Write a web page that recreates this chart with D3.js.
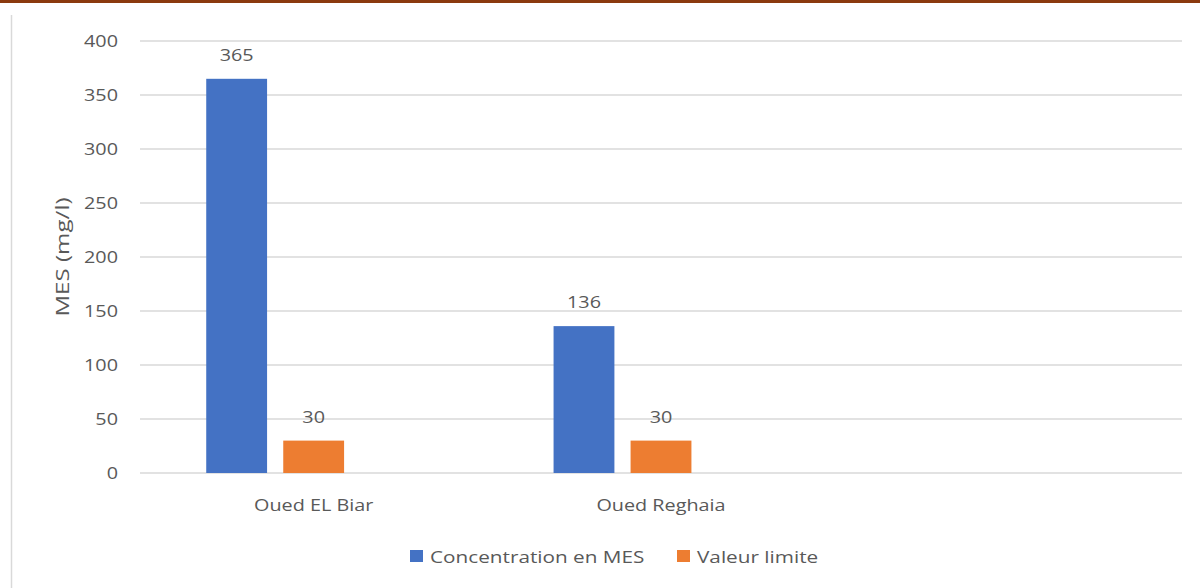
<!DOCTYPE html>
<meta charset="utf-8">
<style>

  body {
    margin: 0;
    background: #fff;
  }

  text {
    font-family: "Open Sans", sans-serif;
    fill: #595959;
  }

</style>
<body>
<svg width="1200" height="588"></svg>
<script src="https://cdn.jsdelivr.net/npm/d3@7"></script>
<script>

var categories = ["Oued EL Biar", "Oued Reghaia", ""];
var seriesNames = ["Concentration en MES", "Valeur limite", ""];
var concentration = [365, 136];
var valeurLimite = [30, 30];
var yTicks = [0, 50, 100, 150, 200, 250, 300, 350, 400];

var colorkey = ["#4472C4", "#ED7D31"];

var data = [];
for (var i = 0; i < concentration.length; i++) {
  data.push({cat: categories[i], key: seriesNames[0], value: concentration[i]});
  data.push({cat: categories[i], key: seriesNames[1], value: valeurLimite[i]});
}

var svg = d3.select("svg"),
    margin = {top: 41, right: 18, bottom: 115, left: 140},
    width = +svg.attr("width"),
    height = +svg.attr("height");

// the source picture has its text a little stretched sideways
var stretch = 1.2;
function place(sel, fx, fy, sx) {
  sel.attr("transform", function(d, i) {
    return "translate(" + fx(d, i) + "," + fy(d, i) + ") scale(" + (sx || stretch) + ",1)";
  });
}

// frame bits
svg.append("rect")
    .attr("x", 0).attr("y", 0)
    .attr("width", width).attr("height", 3)
    .attr("fill", "#8B3A0E");

svg.append("line")
    .attr("x1", 11.5).attr("x2", 11.5)
    .attr("y1", 15).attr("y2", height)
    .attr("stroke", "#d9d9d9")
    .attr("stroke-width", 1.5);

var x0 = d3.scaleBand()
    .domain(categories)
    .range([margin.left, width - margin.right]);

var x1 = d3.scaleBand()
    .domain(seriesNames)
    .range([0, x0.bandwidth()])
    .paddingInner(0.21)
    .paddingOuter(0.86);

var y = d3.scaleLinear()
    .domain([0, 400])
    .range([height - margin.bottom, margin.top]);

var z = d3.scaleOrdinal()
    .domain(seriesNames.slice(0, 2))
    .range(colorkey);

// gridlines
svg.append("g")
  .selectAll("line")
  .data(yTicks)
  .enter().append("line")
    .attr("x1", margin.left)
    .attr("x2", width - margin.right)
    .attr("y1", function(d) { return y(d); })
    .attr("y2", function(d) { return y(d); })
    .attr("stroke", "#d9d9d9")
    .attr("stroke-width", 1.3);

// y tick labels
svg.append("g")
  .selectAll("text")
  .data(yTicks)
  .enter().append("text")
    .attr("dy", "0.35em")
    .attr("text-anchor", "end")
    .style("font-size", "16.5px")
    .text(function(d) { return d; })
    .call(place, function() { return 118; }, function(d) { return y(d); });

// bars
svg.append("g")
  .selectAll("rect")
  .data(data)
  .enter().append("rect")
    .attr("x", function(d) { return x0(d.cat) + x1(d.key); })
    .attr("y", function(d) { return y(d.value); })
    .attr("width", x1.bandwidth())
    .attr("height", function(d) { return y(0) - y(d.value); })
    .attr("fill", function(d) { return z(d.key); });

// value labels
svg.append("g")
  .selectAll("text")
  .data(data)
  .enter().append("text")
    .attr("text-anchor", "middle")
    .style("font-size", "16.5px")
    .text(function(d) { return d.value; })
    .call(place,
      function(d) { return x0(d.cat) + x1(d.key) + x1.bandwidth() / 2; },
      function(d) { return y(d.value) - 18; });

// category labels
svg.append("g")
  .selectAll("text")
  .data(categories)
  .enter().append("text")
    .attr("text-anchor", "middle")
    .style("font-size", "16.5px")
    .text(function(d) { return d; })
    .call(place,
      function(d) { return x0(d) + x0.bandwidth() / 2; },
      function() { return 511; });

// y title
svg.append("text")
    .attr("transform", "translate(69," + ((margin.top + height - margin.bottom) / 2) + ") rotate(-90) scale(1.27,1)")
    .attr("text-anchor", "middle")
    .style("font-size", "19px")
    .text("MES (mg/l)");

// legend
var legend = svg.append("g")
    .attr("transform", "translate(410,550)");

var lx = [0, 267];
var items = legend.selectAll("g")
  .data(seriesNames.slice(0, 2))
  .enter().append("g")
    .attr("transform", function(d, i) { return "translate(" + lx[i] + ",0)"; });

items.append("rect")
    .attr("width", 13)
    .attr("height", 12)
    .attr("fill", function(d) { return z(d); });

items.append("text")
    .style("font-size", "17px")
    .text(function(d) { return d; })
    .call(place, function() { return 20; }, function() { return 13; }, 1.22);

</script>
</body>
